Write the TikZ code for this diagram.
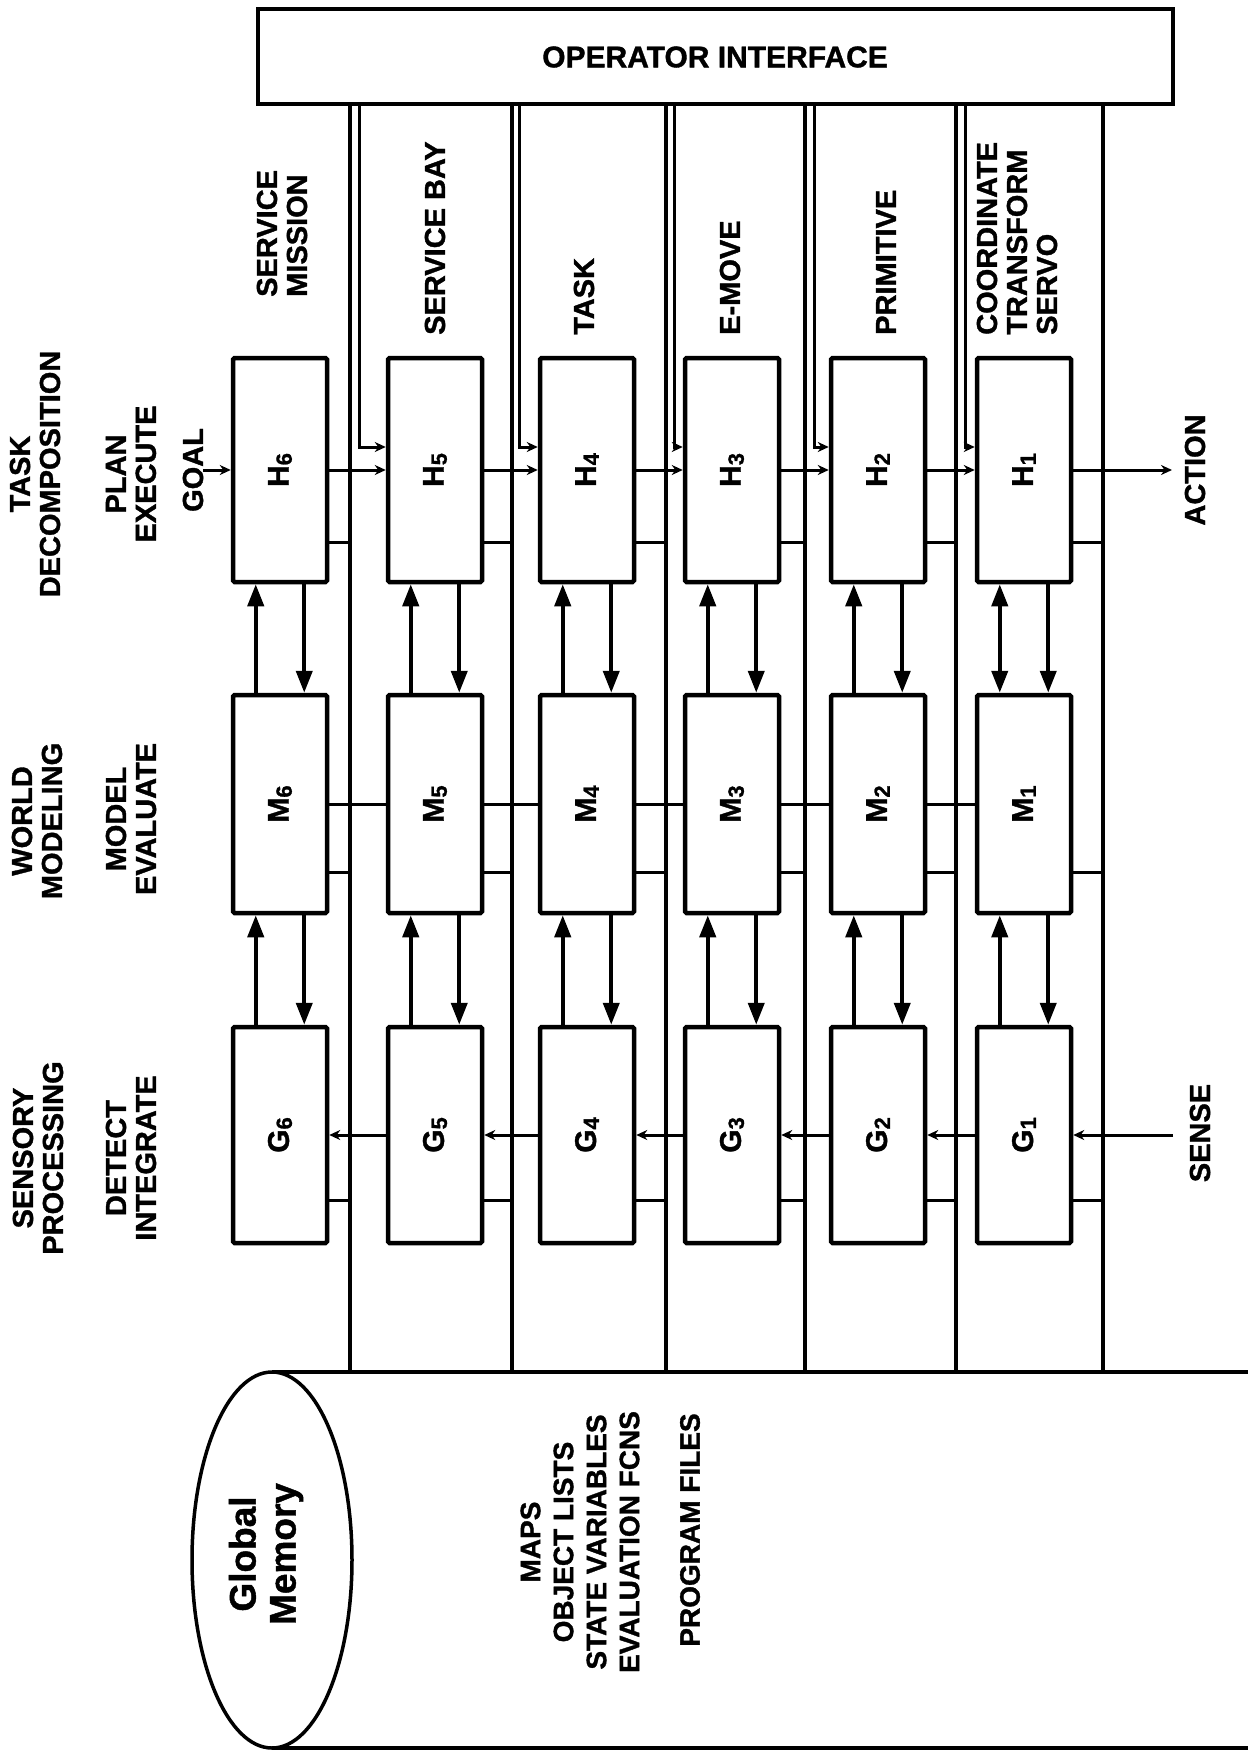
\documentclass[tikz,border=0pt]{standalone}
\usepackage{fontspec}
\setmainfont{Liberation Sans}[BoldFeatures={FakeBold=1.2}]
\usetikzlibrary{arrows.meta}
\newcommand{\lvl}[2]{#1\raisebox{-3pt}{\fontsize{22}{22}\selectfont #2}}
\begin{document}
\begin{tikzpicture}[x=1pt,y=-1pt,
  box/.style={draw, line width=4.5pt, minimum width=94pt, inner sep=0pt, rounded corners=1.5pt},
  hbox/.style={box, minimum height=224pt},
  mbox/.style={box, minimum height=218pt},
  gbox/.style={box, minimum height=216pt},
  boxlab/.style={rotate=90, font=\bfseries\fontsize{30}{30}\selectfont, inner sep=0pt},
  lab/.style={rotate=90, font=\bfseries\fontsize{29}{30}\selectfont, inner sep=0pt, align=center},
  bus/.style={line width=4pt},
  thinl/.style={line width=3pt},
  harrow/.style={thinl, -{Stealth[length=11pt,width=10pt]}},
  vtip/.tip={Triangle[length=22pt,width=16pt]},
  varrow/.style={line width=4pt, -vtip},
  cyl/.style={line width=3.5pt},
]
\useasboundingbox[fill=white] (0,0) rectangle (1247,1760);

% operator interface
\node[draw, line width=4pt, minimum width=915pt, minimum height=95pt, inner sep=0pt,
      font=\bfseries\fontsize{30}{30}\selectfont] (op) at (715,57) {OPERATOR INTERFACE};

% boxes
\foreach \i/\cx/\bx in {6/280/350,5/435/512,4/587/666,3/732/805,2/878/956,1/1024/1103}{
  \node[hbox] (h\i) at (\cx,470) {};
  \node[mbox] (m\i) at (\cx,804) {};
  \node[gbox] (g\i) at (\cx,1135) {};
  \node[boxlab] (h\i t) at (h\i) {\lvl{H}{\i}};
  \node[boxlab] (m\i t) at (m\i) {\lvl{M}{\i}};
  \node[boxlab] (g\i t) at (g\i) {\lvl{G}{\i}};
  \coordinate (bt\i) at (\bx,105);
  \coordinate (bb\i) at (\bx,1372);
}

% bus lines
\foreach \i in {6,...,1}{
  \draw[bus] (bt\i) -- (bb\i);
  \path (h\i.east) ++(0,72) coordinate (hc\i);
  \path (m\i.east) ++(0,68) coordinate (mc\i);
  \path (g\i.east) ++(0,65) coordinate (gc\i);
  \draw[thinl] (hc\i) -- (hc\i -| bt\i);
  \draw[thinl] (mc\i) -- (mc\i -| bt\i);
  \draw[thinl] (gc\i) -- (gc\i -| bt\i);
}

% operator lines
\foreach \i/\ox in {5/359,4/519,3/674,2/814,1/965}{
  \coordinate (ot\i) at (\ox,105);
  \path (h\i.west) ++(0,-23) coordinate (hi\i);
  \draw[harrow] (ot\i) |- (hi\i);
}

% horizontal chains
\foreach \a/\n in {6/5,5/4,4/3,3/2,2/1}{
  \draw[harrow] (h\a.east) -- (h\n.west);
  \draw[thinl] (m\a.east) -- (m\n.west);
  \draw[harrow] (g\n.west) -- (g\a.east);
}

% vertical arrows
\foreach \i in {6,...,2}{
  \draw[varrow] ([xshift=25pt]m\i.north west) -- ([xshift=25pt]h\i.south west);
}
\draw[line width=4pt, vtip-vtip] ([xshift=25pt]m1.north west) -- ([xshift=25pt]h1.south west);
\foreach \i in {6,...,1}{
  \draw[varrow] ([xshift=-25pt]h\i.south east) -- ([xshift=-25pt]m\i.north east);
  \draw[varrow] ([xshift=25pt]g\i.north west) -- ([xshift=25pt]m\i.south west);
  \draw[varrow] ([xshift=-25pt]m\i.south east) -- ([xshift=-25pt]g\i.north east);
}

% inputs / outputs
\coordinate (goal) at (203,470);
\draw[harrow] (goal) -- (h6.west);
\coordinate (action) at (1172,470);
\draw[harrow] (h1.east) -- (action);
\coordinate (sense) at (1173,1135);
\draw[harrow] (sense) -- (g1.east);
\node[lab] (goalt) at (193,470) {GOAL};
\node[lab] (actiont) at (1195,470) {ACTION};
\node[lab] (senset) at (1200,1133) {SENSE};

% headers
\node[lab] (hd1) at (35,474) {TASK\\DECOMPOSITION};
\node[lab] (hd2) at (37,821) {WORLD\\MODELING};
\node[lab] (hd3) at (38,1158) {SENSORY\\PROCESSING};
\node[lab] (sh1) at (131,474) {PLAN\\EXECUTE};
\node[lab] (sh2) at (131,819) {MODEL\\EVALUATE};
\node[lab] (sh3) at (131,1158) {DETECT\\INTEGRATE};

% level names
\node[lab, anchor=west, align=left] (l6) at (282,297) {SERVICE\\MISSION};
\node[lab, anchor=west] (l5) at (435,335) {SERVICE BAY};
\node[lab, anchor=west] (l4) at (584,335) {TASK};
\node[lab, anchor=west] (l3) at (730,335) {E-MOVE};
\node[lab, anchor=west] (l2) at (886,335) {PRIMITIVE};
\node[lab, anchor=west, align=left] (l1) at (1017,335) {COORDINATE\\TRANSFORM\\SERVO};

% global memory cylinder
\draw[cyl] (272,1560) ellipse [x radius=80, y radius=188];
\coordinate (cyltl) at (272,1372);
\coordinate (cyltr) at (1260,1372);
\coordinate (cylbl) at (272,1748);
\coordinate (cylbr) at (1260,1748);
\draw[cyl] (cyltl) -- (cyltr);
\draw[cyl] (cylbl) -- (cylbr);
\node[lab, font=\bfseries\fontsize{37}{40}\selectfont] (gm) at (266,1554) {Global\\Memory};
\node[lab, font=\bfseries\fontsize{28}{33}\selectfont] (files) at (580,1542) {MAPS\\OBJECT LISTS\\STATE VARIABLES\\EVALUATION FCNS};
\node[lab, font=\bfseries\fontsize{28}{33}\selectfont] (prog) at (690,1530) {PROGRAM FILES};
\end{tikzpicture}
\end{document}
